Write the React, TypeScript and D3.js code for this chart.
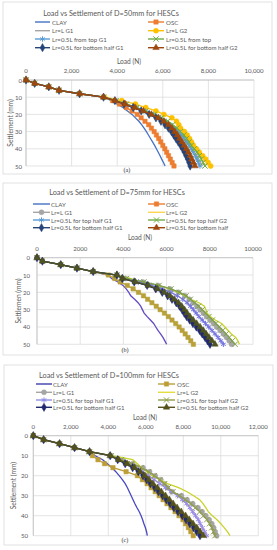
import React from "react";
import * as d3 from "d3";

// settlement levels (mm) shared by every series
const settlement = [0, 2, 4, 6, 8, 10, 12, 14, 16, 18, 20, 22, 24, 26, 28, 30, 32, 34, 36, 38, 40, 42, 44, 46, 48, 50];
const settleTicks = [0, 10, 20, 30, 40, 50];

// (a) D=50mm, loads (N)
const clayA = [0, 380, 1000, 1450, 2350, 3400, 3750, 4000, 4250, 4450, 4650, 4800, 4950, 5070, 5180, 5280, 5370, 5460, 5550, 5640, 5720, 5800, 5880, 5950, 6030, 6100];
const oscA = [0, 380, 1000, 1450, 2350, 3400, 3800, 4100, 4400, 4650, 4880, 5050, 5220, 5380, 5500, 5620, 5720, 5820, 5910, 6000, 6090, 6170, 6250, 6330, 6410, 6490];
const lrG1A = [0, 380, 1000, 1450, 2350, 3400, 3950, 4400, 4850, 5250, 5610, 5920, 6180, 6390, 6560, 6720, 6850, 6970, 7080, 7190, 7300, 7400, 7500, 7580, 7660, 7740];
const lrG2A = [0, 380, 1000, 1450, 2350, 3450, 4200, 4800, 5250, 5700, 6050, 6400, 6600, 6700, 6780, 6950, 7070, 7170, 7260, 7340, 7480, 7600, 7750, 7880, 7990, 8100];
const topG1A = [0, 380, 1000, 1450, 2350, 3400, 3950, 4400, 4850, 5250, 5600, 5900, 6150, 6350, 6520, 6680, 6800, 6920, 7030, 7140, 7240, 7330, 7420, 7490, 7560, 7630];
const topA = [0, 380, 1000, 1450, 2350, 3400, 3950, 4400, 4850, 5250, 5620, 5950, 6220, 6430, 6610, 6780, 6920, 7040, 7150, 7250, 7380, 7500, 7600, 7690, 7770, 7850];
const botG1A = [0, 380, 1000, 1450, 2350, 3400, 3900, 4300, 4700, 5050, 5400, 5700, 5920, 6100, 6250, 6380, 6480, 6580, 6680, 6780, 6870, 6950, 7020, 7090, 7150, 7200];
const botG2A = [0, 380, 1000, 1450, 2350, 3400, 3900, 4350, 4780, 5150, 5500, 5800, 6050, 6250, 6400, 6530, 6640, 6740, 6840, 6940, 7030, 7120, 7200, 7270, 7340, 7410];

// (b) D=75mm
const clayB = [0, 250, 1100, 1850, 2600, 3300, 3450, 3750, 3980, 4130, 4250, 4340, 4520, 4680, 4800, 4880, 4960, 5100, 5250, 5400, 5500, 5600, 5720, 5830, 5920, 6000];
const oscB = [0, 250, 1100, 1850, 2600, 3300, 3600, 3850, 4180, 4450, 4700, 4930, 5120, 5320, 5520, 5700, 5900, 6080, 6250, 6420, 6580, 6720, 6860, 6990, 7120, 7240];
const lrG1B = [0, 250, 1100, 1850, 2600, 3700, 4100, 4900, 5600, 6150, 6550, 6850, 7050, 7230, 7400, 7550, 7700, 7850, 8010, 8170, 8320, 8480, 8630, 8770, 8900, 9010];
const lrG2B = [0, 250, 1100, 1850, 2600, 3700, 4300, 4800, 5600, 6150, 6550, 6850, 7100, 7500, 7750, 7820, 7880, 8020, 8250, 8550, 8700, 8850, 9000, 9200, 9300, 9370];
const topG1B = [0, 250, 1100, 1850, 2600, 3700, 4000, 4700, 5300, 5800, 6200, 6500, 6750, 6950, 7100, 7240, 7370, 7500, 7650, 7800, 7950, 8100, 8240, 8380, 8510, 8630];
const topG2B = [0, 250, 1100, 1850, 2600, 3700, 4150, 4950, 5650, 6200, 6600, 6900, 7100, 7300, 7480, 7650, 7800, 7960, 8120, 8280, 8440, 8600, 8750, 8900, 9040, 9170];
const botG1B = [0, 250, 1100, 1850, 2600, 3700, 3950, 4500, 5100, 5500, 5800, 6050, 6250, 6450, 6600, 6720, 6820, 6930, 7070, 7220, 7380, 7530, 7650, 7780, 7900, 8010];
const botG2B = [0, 250, 1100, 1850, 2600, 3700, 3950, 4550, 5150, 5580, 5900, 6150, 6350, 6550, 6700, 6830, 6950, 7080, 7230, 7390, 7550, 7700, 7830, 7960, 8100, 8240];

// (c) D=100mm
const clayC = [0, 550, 1400, 2200, 3000, 3300, 3700, 3950, 4200, 4400, 4580, 4750, 4900, 5020, 5120, 5220, 5320, 5420, 5530, 5650, 5750, 5830, 5900, 5980, 6040, 6080];
const oscC = [0, 550, 1400, 2200, 3000, 3150, 3450, 3800, 4250, 4950, 5550, 5820, 6070, 6280, 6500, 6710, 6920, 7130, 7340, 7560, 7770, 7980, 8120, 8270, 8400, 8530];
const lrG1C = [0, 550, 1400, 2200, 3000, 4150, 4750, 5300, 5850, 6200, 6500, 6800, 7000, 7150, 7400, 7900, 8200, 8500, 8780, 9000, 9200, 9380, 9520, 9620, 9700, 9780];
const lrG2C = [0, 550, 1400, 2200, 3000, 4200, 5300, 5550, 5780, 6050, 6320, 6750, 7150, 7750, 8200, 8550, 8870, 9050, 9200, 9330, 9550, 9800, 10000, 10180, 10350, 10490];
const topG1C = [0, 550, 1400, 2200, 3000, 4100, 4600, 5100, 5500, 5850, 6150, 6450, 6750, 7050, 7350, 7700, 7950, 8180, 8350, 8500, 8650, 8800, 8900, 9020, 9140, 9250];
const topG2C = [0, 550, 1400, 2200, 3000, 4150, 4700, 5250, 5750, 6150, 6450, 6750, 7000, 7200, 7450, 7800, 8100, 8400, 8650, 8880, 9080, 9250, 9400, 9520, 9610, 9690];
const botG1C = [0, 550, 1400, 2200, 3000, 4100, 4500, 4900, 5300, 5600, 5850, 6050, 6250, 6480, 6680, 6900, 7100, 7300, 7500, 7720, 7950, 8150, 8350, 8550, 8720, 8890];
const botG2C = [0, 550, 1400, 2200, 3000, 4100, 4550, 5000, 5400, 5700, 5950, 6170, 6380, 6620, 6830, 7050, 7260, 7460, 7670, 7890, 8120, 8320, 8520, 8720, 8900, 9070];

const loadTicksA = [0, 2000, 4000, 6000, 8000, 10000];
const loadTicksC = [0, 2000, 4000, 6000, 8000, 10000, 12000];

const namesA = ["CLAY", "OSC", "Lr=L G1", "Lr=L G2", "Lr=0.5L from top G1", "Lr=0.5L from top", "Lr=0.5L for bottom half G1", "Lr=0.5L for bottom half G2"];
const namesB = ["CLAY", "OSC", "Lr=L G1", "Lr=L G2", "Lr=0.5L for top half G1", "Lr=0.5L for top half G2", "Lr=0.5L for bottom half G1", "Lr=0.5L for bottom half"];
const namesC = ["CLAY", "OSC", "Lr=L G1", "Lr=L G2", "Lr=0.5L for top half G1", "Lr=0.5L for top half G2", "Lr=0.5L for bottom half G1", "Lr=0.5L for bottom half G2"];

type Marker = "none" | "square" | "circle" | "diamond" | "triangle" | "x" | "asterisk";
type Series = { name: string; loads: number[]; color: string; legend: string; marker: Marker };

const FONT = "Lato, 'Open Sans', sans-serif";
const TXT = "#595959";

function mk(names: string[], data: number[][], colors: string[], legendColors: string[], markers: Marker[]): Series[] {
  return names.map((n, i) => ({ name: n, loads: data[i], color: colors[i], legend: legendColors[i], marker: markers[i] }));
}

const seriesA = mk(
  namesA,
  [clayA, oscA, lrG1A, lrG2A, topG1A, topA, botG1A, botG2A],
  ["#4472C4", "#ED7D31", "#A5A5A5", "#FFC000", "#5B9BD5", "#70AD47", "#264478", "#9E480E"],
  ["#4472C4", "#ED7D31", "#A5A5A5", "#FFC000", "#5B9BD5", "#70AD47", "#264478", "#9E480E"],
  ["none", "square", "none", "circle", "asterisk", "x", "diamond", "triangle"]
);
const seriesB = mk(
  namesB,
  [clayB, oscB, lrG1B, lrG2B, topG1B, topG2B, botG1B, botG2B],
  ["#6449C4", "#B8A13A", "#A5A5A5", "#C9D22A", "#7676E0", "#7FA04A", "#222A6E", "#4F5222"],
  ["#4472C4", "#ED7D31", "#A5A5A5", "#FFD54F", "#5B9BD5", "#70AD47", "#264478", "#9E480E"],
  ["none", "square", "circle", "none", "asterisk", "x", "diamond", "triangle"]
);
const seriesC = mk(
  namesC,
  [clayC, oscC, lrG1C, lrG2C, topG1C, topG2C, botG1C, botG2C],
  ["#4848C0", "#BC9E36", "#A5A5A5", "#C9D22A", "#9A8CE6", "#8E9E48", "#222A6E", "#55521C"],
  ["#3D3DB0", "#BC9E36", "#A5A5A5", "#E3DE3C", "#8E8EE6", "#8E9E48", "#222A6E", "#55521C"],
  ["none", "square", "circle", "none", "asterisk", "x", "diamond", "triangle"]
);

type Layout = {
  box: [number, number, number, number];
  title: string;
  titleX: number;
  titleY: number;
  rows: number[];
  cols: { x0: number; x1: number; tx: number }[];
  loadX: number;
  loadY: number;
  tickY: number;
  plot: { l: number; r: number; t: number; b: number };
  xMax: number;
  xTicks: number[];
  comma: boolean;
  yLabel: string;
  yLabelX: number;
  yTickR: number;
  caption: string;
  capX: number;
  capY: number;
};

function symbolFor(m: Marker) {
  switch (m) {
    case "square":
      return d3.symbolSquare;
    case "circle":
      return d3.symbolCircle;
    case "diamond":
      return d3.symbolDiamond;
    case "triangle":
      return d3.symbolTriangle;
    case "x":
      return d3.symbolTimes;
    case "asterisk":
      return d3.symbolAsterisk;
    default:
      return null;
  }
}

function MarkerGlyph({ m, color, x, y }: { m: Marker; color: string; x: number; y: number }) {
  const s = symbolFor(m);
  if (!s) return null;
  const stroked = m === "x" || m === "asterisk";
  const size = m === "square" ? 19 : m === "diamond" ? 20 : m === "triangle" ? 18 : stroked ? 20 : 20;
  const d = d3.symbol(s, size)() || "";
  return (
    <path
      d={d}
      transform={`translate(${x},${y})`}
      fill={stroked ? "none" : color}
      stroke={color}
      strokeWidth={stroked ? 1 : 0.5}
    />
  );
}

function Panel({ lay, series }: { lay: Layout; series: Series[] }) {
  const { plot } = lay;
  const x = d3.scaleLinear().domain([0, lay.xMax]).range([plot.l, plot.r]);
  const y = d3.scaleLinear().domain([0, 50]).range([plot.t, plot.b]);
  const fmt = lay.comma ? d3.format(",") : d3.format("d");
  const line = d3
    .line<number>()
    .x((d) => x(d))
    .y((_, i) => y(settlement[i]));
  const [bx, by, bw, bh] = lay.box;
  const midY = (plot.t + plot.b) / 2;

  return (
    <g>
      <rect x={bx} y={by} width={bw} height={bh} fill="#fff" stroke="#D9D9D9" strokeWidth={0.8} />
      <text x={lay.titleX} y={lay.titleY} fontSize={7.3} fill={TXT} textAnchor="middle" dominantBaseline="central">
        {lay.title}
      </text>
      {series.map((s, i) => {
        const col = lay.cols[i % 2];
        const ry = lay.rows[Math.floor(i / 2)];
        return (
          <g key={s.name}>
            <line x1={col.x0} x2={col.x1} y1={ry} y2={ry} stroke={s.legend} strokeWidth={1.4} />
            <MarkerGlyph m={s.marker} color={s.legend} x={(col.x0 + col.x1) / 2} y={ry} />
            <text x={col.tx} y={ry} fontSize={6.1} fill={TXT} dominantBaseline="central">
              {s.name}
            </text>
          </g>
        );
      })}
      <text x={lay.loadX} y={lay.loadY} fontSize={6.6} fill={TXT} textAnchor="middle" dominantBaseline="central">
        Load (N)
      </text>
      {lay.xTicks.map((t) => (
        <g key={"x" + t}>
          <line x1={x(t)} x2={x(t)} y1={plot.t} y2={plot.b} stroke="#D9D9D9" strokeWidth={0.7} />
          <text x={x(t)} y={lay.tickY} fontSize={6.1} fill={TXT} textAnchor="middle" dominantBaseline="central">
            {fmt(t)}
          </text>
        </g>
      ))}
      {settleTicks.map((t) => (
        <g key={"y" + t}>
          <line x1={plot.l} x2={plot.r} y1={y(t)} y2={y(t)} stroke="#D9D9D9" strokeWidth={0.7} />
          <text x={lay.yTickR} y={y(t)} fontSize={6.1} fill={TXT} textAnchor="end" dominantBaseline="central">
            {t}
          </text>
        </g>
      ))}
      <line x1={plot.l} x2={plot.r} y1={plot.t} y2={plot.t} stroke="#BFBFBF" strokeWidth={0.8} />
      <line x1={plot.l} x2={plot.l} y1={plot.t} y2={plot.b} stroke="#BFBFBF" strokeWidth={0.8} />
      <text
        transform={`translate(${lay.yLabelX},${midY}) rotate(-90)`}
        fontSize={6.6}
        fill={TXT}
        textAnchor="middle"
        dominantBaseline="central"
      >
        {lay.yLabel}
      </text>
      {series.map((s) => (
        <g key={"s" + s.name}>
          <path d={line(s.loads) || ""} fill="none" stroke={s.color} strokeWidth={1.3} />
          {s.marker !== "none" &&
            s.loads.map((v, i) => (
              <MarkerGlyph key={i} m={s.marker} color={s.color} x={x(v)} y={y(settlement[i])} />
            ))}
        </g>
      ))}
      <text
        x={lay.capX}
        y={lay.capY}
        fontSize={6.2}
        fill="#333"
        fontFamily="'Liberation Serif', serif"
        textAnchor="middle"
        dominantBaseline="central"
      >
        {lay.caption}
      </text>
    </g>
  );
}

const layA: Layout = {
  box: [3, 2, 269, 172],
  title: "Load vs Settlement of D=50mm for HESCs",
  titleX: 111,
  titleY: 13,
  rows: [22, 30.7, 39, 47.7],
  cols: [
    { x0: 35, x1: 50, tx: 52 },
    { x0: 148, x1: 164, tx: 166 },
  ],
  loadX: 129,
  loadY: 60.7,
  tickY: 70.7,
  plot: { l: 26, r: 254, t: 80, b: 166 },
  xMax: 10000,
  xTicks: loadTicksA,
  comma: true,
  yLabel: "Settlement (mm)",
  yLabelX: 9.5,
  yTickR: 22,
  caption: "(a)",
  capX: 127,
  capY: 169,
};

const layB: Layout = {
  box: [3, 183, 269, 172],
  title: "Load vs Settlement of D=75mm for HESCs",
  titleX: 117,
  titleY: 192.7,
  rows: [204, 212.3, 220, 227.7],
  cols: [
    { x0: 33, x1: 50, tx: 51 },
    { x0: 148, x1: 165, tx: 166 },
  ],
  loadX: 140,
  loadY: 237.3,
  tickY: 248.3,
  plot: { l: 37, r: 253, t: 257.7, b: 344.3 },
  xMax: 10000,
  xTicks: loadTicksA,
  comma: false,
  yLabel: "Settlemen (mm)",
  yLabelX: 18,
  yTickR: 30,
  caption: "(b)",
  capX: 125,
  capY: 349.5,
};

const layC: Layout = {
  box: [4, 365, 269, 180],
  title: "Load vs Settlement of D=100mm for HESCs",
  titleX: 109,
  titleY: 375,
  rows: [384, 392.3, 400, 407.3],
  cols: [
    { x0: 36, x1: 52, tx: 53 },
    { x0: 158, x1: 175, tx: 177 },
  ],
  loadX: 145,
  loadY: 416.7,
  tickY: 426.7,
  plot: { l: 33.3, r: 258.3, t: 435.7, b: 535.7 },
  xMax: 12000,
  xTicks: loadTicksC,
  comma: true,
  yLabel: "Settlement (mm)",
  yLabelX: 13,
  yTickR: 28,
  caption: "(c)",
  capX: 125,
  capY: 539.5,
};

export default function App() {
  return (
    <svg
      width={277}
      height={550}
      style={{ position: "absolute", left: 0, top: 0, background: "#fff" }}
      fontFamily={FONT}
    >
      <Panel lay={layA} series={seriesA} />
      <Panel lay={layB} series={seriesB} />
      <Panel lay={layC} series={seriesC} />
    </svg>
  );
}
